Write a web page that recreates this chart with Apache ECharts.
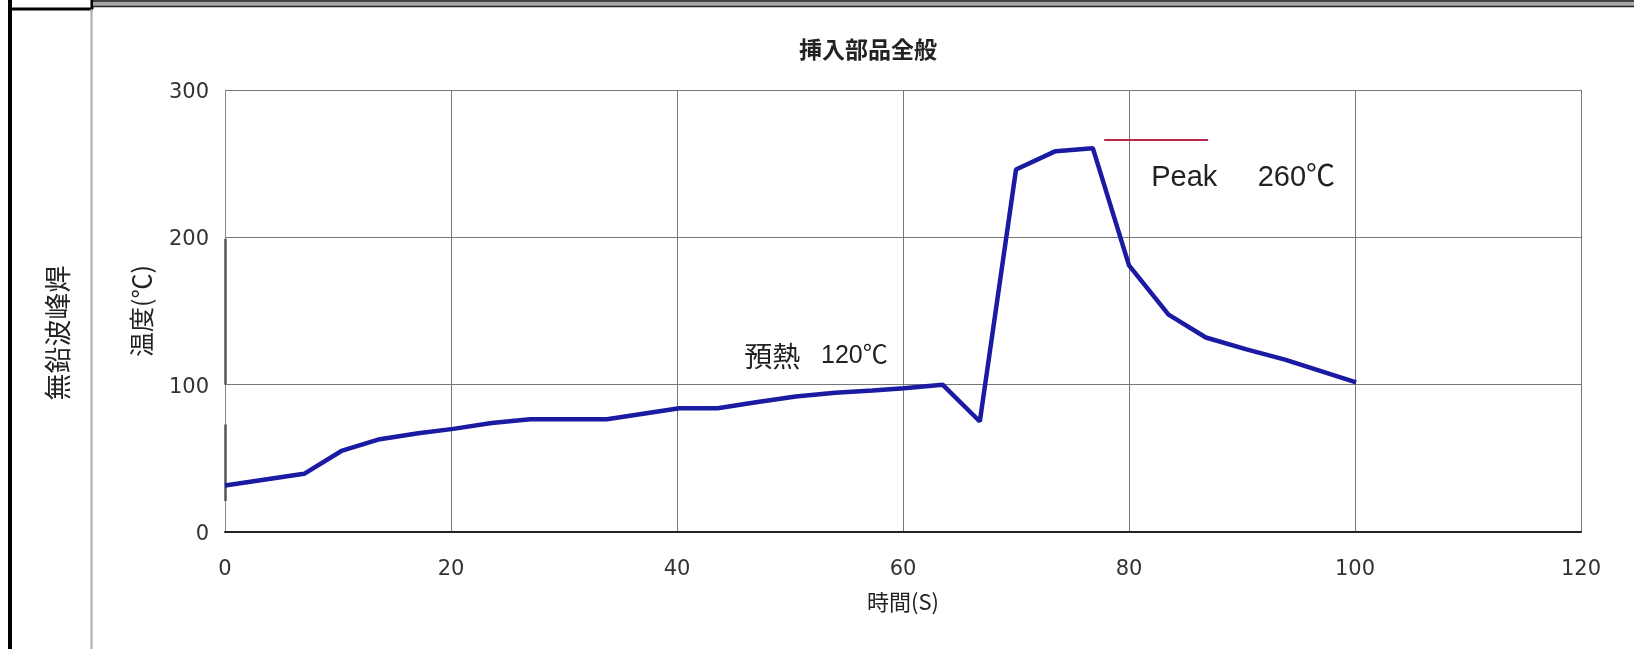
<!DOCTYPE html>
<html>
<head>
<meta charset="utf-8">
<script src="https://cdn.jsdelivr.net/npm/echarts@6/dist/echarts.min.js"></script>
<style>
html,body{margin:0;padding:0;background:#fff;}
#chart{width:1634px;height:649px;}
</style>
</head>
<body>
<div id="chart"></div>
<script>
// ---- data ----
const timeSec = [0, 7, 10.3, 13.7, 17.1, 20.2, 23.6, 27, 33.8, 40.2, 43.6, 47, 50.5, 54, 57.3, 60.1, 63.5, 66.8, 70, 73.5, 76.8, 80, 83.5, 86.8, 90.4, 93.8, 100.1];
const tempC   = [31.5, 39.5, 55, 63, 67, 70, 74, 76.5, 76.5, 84, 84, 88, 92, 94.5, 96, 97.5, 100, 75, 246, 258.5, 260.5, 181, 147.5, 132, 124, 117, 101.5];
const xTicks = [0, 20, 40, 60, 80, 100, 120];
const yTicks = [0, 100, 200, 300];
const titleText = '挿入部品全般';
const xName = '時間(S)';
const yName = '温度(℃)';
const sideLabel = '無鉛波峰焊';
const preheatLabel = { cjk: '預熱', num: '   120℃', t: 52.3, v: 119.5 };
const peakLabel = { text: 'Peak     260℃', t: 90.1, v: 240 };
const peakLine = { t0: 77.8, t1: 87.0, v: 266 };
const axisStubs = [[[0, 199], [0, 100]], [[0, 73], [0, 21]]];

const series = timeSec.map((t, i) => [t, tempC[i]]);

const chart = echarts.init(document.getElementById('chart'));
chart.setOption({
  backgroundColor: '#fff',
  animation: false,
  title: {
    text: titleText,
    left: 794, top: 33,
    textStyle: { fontFamily: 'Noto Sans CJK JP', fontSize: 23, fontWeight: 'bold', color: '#222' }
  },
  grid: { left: 225, right: 53, top: 90, bottom: 117, containLabel: false },
  xAxis: {
    type: 'value', min: xTicks[0], max: xTicks[xTicks.length - 1], interval: 20,
    name: xName, nameLocation: 'middle', nameGap: 59,
    nameTextStyle: { fontFamily: 'Noto Sans CJK JP', fontSize: 22, color: '#222' },
    axisLine: { show: true, lineStyle: { color: '#222', width: 2 } },
    axisTick: { show: false },
    axisLabel: { margin: 27, fontFamily: 'DejaVu Sans', fontSize: 21, color: '#333' },
    splitLine: { show: true, lineStyle: { color: '#777', width: 1 } }
  },
  yAxis: {
    type: 'value', min: yTicks[0], max: yTicks[yTicks.length - 1], interval: 100,
    name: yName, nameLocation: 'middle', nameGap: 71, nameRotate: 90,
    nameTextStyle: { fontFamily: 'Noto Sans CJK JP', fontSize: 25, color: '#222' },
    axisLine: { show: true, lineStyle: { color: '#888', width: 1 } },
    axisTick: { show: false },
    axisLabel: {
      margin: 16, color: '#333',
      formatter: v => '{a|' + v + '}',
      rich: { a: { fontFamily: 'DejaVu Sans', fontSize: 21, color: '#333', padding: [5, 0, 0, 0] } }
    },
    splitLine: { show: true, lineStyle: { color: '#777', width: 1 } }
  },
  series: [
    {
      type: 'line',
      data: series,
      showSymbol: false,
      lineStyle: { color: '#1a1aa2', width: 4.5 },
      z: 5,
      markLine: {
        silent: true, symbol: 'none', animation: false,
        label: { show: false },
        data: [
          [{ coord: [peakLine.t0, peakLine.v], lineStyle: { color: '#b8284a', width: 2, type: 'solid' } },
           { coord: [peakLine.t1, peakLine.v] }],
          ...axisStubs.map(s => [
            { coord: s[0], lineStyle: { color: '#555', width: 2.5, type: 'solid' } },
            { coord: s[1] }
          ])
        ]
      },
      markPoint: {
        silent: true, symbol: 'circle', symbolSize: 1, animation: false,
        itemStyle: { color: 'rgba(0,0,0,0)' },
        data: [
          { coord: [preheatLabel.t, preheatLabel.v], value: 1,
            label: { show: true, position: 'inside',
              formatter: '{c|' + preheatLabel.cjk + '}{n|' + preheatLabel.num + '}',
              rich: {
                c: { fontFamily: 'Noto Sans CJK JP', fontSize: 28, color: '#222' },
                n: { fontFamily: 'Liberation Sans, Noto Sans CJK JP', fontSize: 25, color: '#222' }
              } } },
          { coord: [peakLabel.t, peakLabel.v], value: 1,
            label: { show: true, formatter: peakLabel.text, fontFamily: 'Liberation Sans, Noto Sans CJK JP', fontSize: 29, color: '#222', position: 'inside' } }
        ]
      }
    }
  ],
  graphic: [
    { type: 'line', shape: { x1: 10, y1: 0, x2: 10, y2: 649 }, style: { stroke: '#000', lineWidth: 4 } },
    { type: 'line', shape: { x1: 8, y1: 9, x2: 93, y2: 9 }, style: { stroke: '#000', lineWidth: 3 } },
    { type: 'line', shape: { x1: 92, y1: 0, x2: 92, y2: 9 }, style: { stroke: '#000', lineWidth: 3 } },
    { type: 'line', shape: { x1: 91.5, y1: 9, x2: 91.5, y2: 649 }, style: { stroke: '#aaa', lineWidth: 2 } },
    { type: 'rect', shape: { x: 93, y: 0, width: 1541, height: 7 }, style: { fill: '#a8a8a8' } },
    { type: 'line', shape: { x1: 93, y1: 1, x2: 1634, y2: 1 }, style: { stroke: '#222', lineWidth: 1.5 } },
    { type: 'line', shape: { x1: 93, y1: 6.5, x2: 1634, y2: 6.5 }, style: { stroke: '#222', lineWidth: 1.5 } },
    {
      type: 'text', x: 58, y: 333, rotation: Math.PI / 2,
      style: { text: sideLabel, fontFamily: 'Noto Sans CJK TC', fontSize: 27, fill: '#222', align: 'center', verticalAlign: 'middle' }
    }
  ]
});
</script>
</body>
</html>
